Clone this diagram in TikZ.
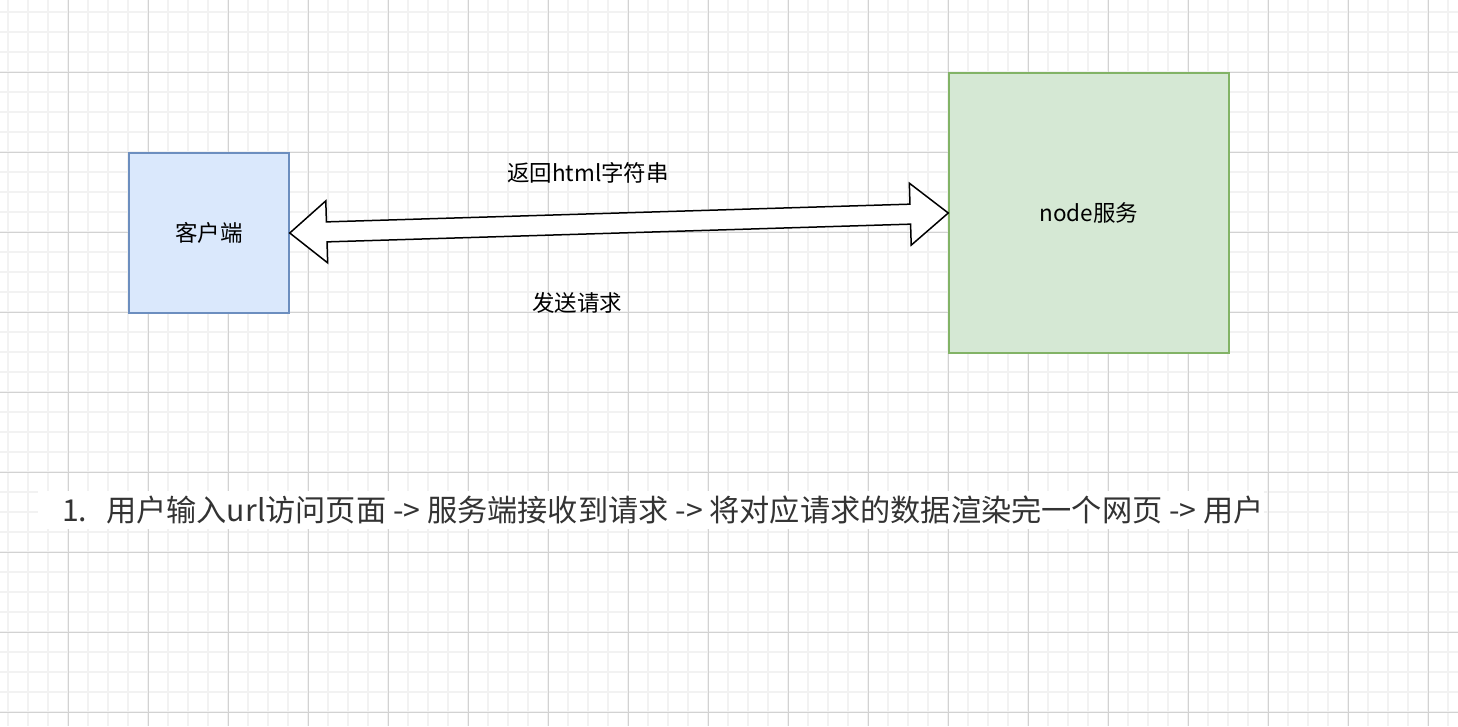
\documentclass[tikz,border=0pt]{standalone}
\usepackage{fontspec}
\setmainfont{Noto Sans CJK SC}
\usetikzlibrary{calc}
\usetikzlibrary{positioning}
\definecolor{gridminor}{HTML}{F2F2F2}
\definecolor{gridmajor}{HTML}{D2D2D2}
\definecolor{clientfill}{HTML}{DAE8FC}
\definecolor{clientline}{HTML}{6C8EBF}
\definecolor{serverfill}{HTML}{D5E8D4}
\definecolor{serverline}{HTML}{82B366}
\definecolor{stepstext}{HTML}{333333}

\begin{document}
\begin{tikzpicture}[x=1pt,y=-1pt,
  box/.style={draw,line width=1.5pt,inner sep=0pt,font=\fontsize{22.5}{27}\selectfont},
  lbl/.style={inner sep=0pt,font=\fontsize{22.5}{27}\selectfont}]
\useasboundingbox (0,0) rectangle (1458,726);
\fill[white] (0,0) rectangle (1458,726);
% grid
\foreach \x in {8,28,...,1448} \draw[gridminor,line width=2pt] (\x,0) -- (\x,726);
\foreach \y in {12,32,...,712} \draw[gridminor,line width=2pt] (0,\y) -- (1458,\y);
\foreach \x in {68,148,...,1428} \draw[gridmajor,line width=1pt] (\x,0) -- (\x,726);
\foreach \y in {72,152,...,712} \draw[gridmajor,line width=1pt] (0,\y) -- (1458,\y);

\node[box,fill=clientfill,draw=clientline,minimum width=160pt,minimum height=160pt] (client) at (209,233) {客户端};
\node[box,fill=serverfill,draw=serverline,minimum width=280pt,minimum height=280pt] (server) at (1089,213) {node服务};

% double arrow
\coordinate (L) at (client.east);
\coordinate (R) at (server.west);
\coordinate (hl) at ($(L)!37pt!(R)$);
\coordinate (hr) at ($(R)!38pt!(L)$);
\draw[line width=1.5pt,fill=white,line join=miter] (L) -- ($(hl)!31pt!90:(R)$) -- ($(hl)!10pt!90:(R)$)
  -- ($(hr)!10pt!90:(R)$) -- ($(hr)!31pt!90:(R)$) -- (R) -- ($(hr)!31pt!-90:(R)$) -- ($(hr)!10pt!-90:(R)$)
  -- ($(hl)!10pt!-90:(R)$) -- ($(hl)!31pt!-90:(R)$) -- cycle;

\node[lbl] (resp) at (588,173) {返回html字符串};
\node[lbl] (req) at (577,303) {发送请求};

\node[anchor=west,fill=white,inner sep=0pt,minimum height=38pt,text=stepstext,font=\fontsize{30.2}{36}\selectfont] (steps) at (38,510)
  {\hspace{24pt}\makebox[44pt][l]{1.}用户输入url访问页面 -> 服务端接收到请求 -> 将对应请求的数据渲染完一个网页 -> 用户\hspace{2pt}};

\end{tikzpicture}
\end{document}
